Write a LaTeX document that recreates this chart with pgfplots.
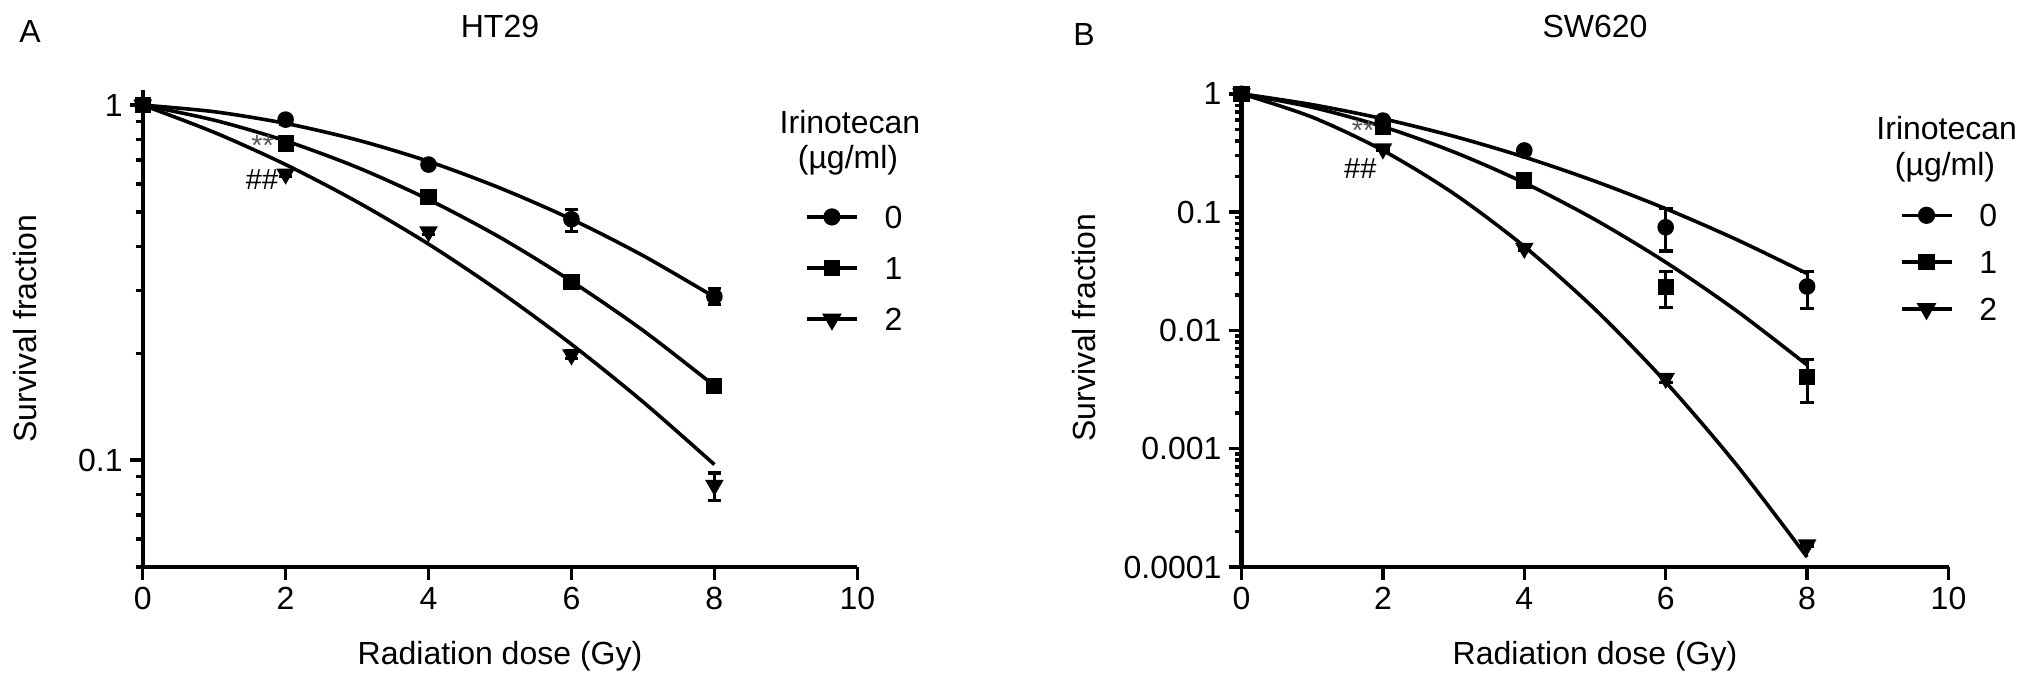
\documentclass[border=0pt]{standalone}
\usepackage{fontspec}
\setmainfont{Liberation Sans}
\usepackage{pgfplots}
\pgfplotsset{compat=1.18}
\newcommand\fs{\fontsize{16}{19.2}\selectfont}
\newcommand\fsa{\fontsize{14.5}{17}\selectfont}

\pgfplotsset{
  legend image code/.code={\draw[#1, mark repeat=2, mark phase=2] plot coordinates {(0pt,0pt) (12.5pt,0pt) (25pt,0pt)};},
  sfcurve/.style={black, line width=1.8pt, smooth, no markers, forget plot},
  sfpts/.style={black, only marks, line width=1.5pt, forget plot,
    error bars/y dir=both, error bars/y explicit,
    error bars/error bar style={line width=1.6pt, black},
    error bars/error mark options={rotate=90, mark size=3.4pt, line width=1.6pt, black}},
  sfmka/.style={mark=*, mark size=3.4pt},
  sfmkb/.style={mark=square*, mark size=3.3pt},
  sfmkc/.style={mark=triangle*, mark size=3.9pt, mark options={rotate=180}},
}

\begin{document}
\begin{tikzpicture}[x=1pt,y=1pt]
\useasboundingbox (0,0) rectangle (1015.5,342.5);

% ---------------- Panel A: HT29 ----------------
\begin{axis}[at={(71.35pt,59pt)}, anchor=south west,
  scale only axis, width=357.3pt, height=238.3pt,
  ymode=log, xmin=0, xmax=10, xtick={0,2,4,6,8,10},
  ymin=0.05, ymax=1.1, ytick={0.1,1}, yticklabels={0.1,1},
  minor ytick={0.05,0.06,0.07,0.08,0.09,0.2,0.3,0.4,0.5,0.6,0.7,0.8,0.9},
  axis lines=left, axis line style={-, line width=2.1pt},
  tick align=outside, major tick length=6.5pt, minor tick length=3.5pt,
  tick style={black, line width=1.7pt},
  tick label style={font=\fs},
  /pgf/number format/assume math mode=true,
  clip=false,
  xlabel={Radiation dose (Gy)}, ylabel={Survival fraction},
  xlabel style={font=\fs, at={(axis description cs:0.5,-0.187)}, anchor=center},
  ylabel style={font=\fs, at={(axis description cs:-0.165,0.5)}, anchor=center},
  legend style={draw=none, fill=none, inner sep=0pt, outer sep=0pt, font=\fs,
    anchor=north west, column sep=13pt, nodes={inner sep=0pt, text depth=0pt},
    at={(axis description cs:0.927,0.758)}, row sep=14.5pt},
  legend cell align=left]
% fitted curves
\addplot[sfcurve] coordinates {(0,1) (1,0.958) (2,0.888) (3,0.798) (4,0.694) (5,0.584) (6,0.477) (7,0.377) (8,0.288)};
\addplot[sfcurve] coordinates {(0,1) (1,0.907) (2,0.793) (3,0.668) (4,0.542) (5,0.424) (6,0.319) (7,0.232) (8,0.162)};
\addplot[sfcurve] coordinates {(0,1) (1,0.838) (2,0.680) (3,0.534) (4,0.406) (5,0.298) (6,0.212) (7,0.146) (8,0.0972)};
% data points
\addplot[sfpts, sfmka] coordinates {(0,1) (2,0.91) +- (0,0.025) (4,0.68) +- (0,0.012) (6,0.477) += (0,0.031) -= (0,0.037) (8,0.289) +- (0,0.015)};
\addplot[sfpts, sfmkb] coordinates {(0,1) (2,0.78) +- (0,0.01) (4,0.55) +- (0,0.01) (6,0.317) +- (0,0.008) (8,0.162) +- (0,0.004)};
\addplot[sfpts, sfmkc] coordinates {(0,1) (2,0.64) +- (0,0.01) (4,0.44) +- (0,0.008) (6,0.198) +- (0,0.005) (8,0.085) += (0,0.007) -= (0,0.008)};
\addlegendimage{black, line width=1.8pt, sfmka}\addlegendentry{0}
\addlegendimage{black, line width=1.8pt, sfmkb}\addlegendentry{1}
\addlegendimage{black, line width=1.8pt, sfmkc}\addlegendentry{2}
\node[font=\fsa, text=black!65] at (axis cs:1.68,0.77) {**};
\node[font=\fsa] at (axis cs:1.67,0.615) {\#\#};
\end{axis}

% ---------------- Panel B: SW620 ----------------
\begin{axis}[at={(620.75pt,59pt)}, anchor=south west,
  scale only axis, width=353.5pt, height=239.05pt,
  ymode=log, xmin=0, xmax=10, xtick={0,2,4,6,8,10},
  ymin=0.0001, ymax=1.1, ytick={0.0001,0.001,0.01,0.1,1}, yticklabels={0.0001,0.001,0.01,0.1,1},
  minor ytick={0.0002,0.0003,0.0004,0.0005,0.0006,0.0007,0.0008,0.0009,
    0.002,0.003,0.004,0.005,0.006,0.007,0.008,0.009,
    0.02,0.03,0.04,0.05,0.06,0.07,0.08,0.09,
    0.2,0.3,0.4,0.5,0.6,0.7,0.8,0.9},
  axis lines=left, axis line style={-, line width=2.1pt},
  tick align=outside, major tick length=6.5pt, minor tick length=3.5pt,
  tick style={black, line width=1.7pt},
  tick label style={font=\fs},
  /pgf/number format/assume math mode=true,
  clip=false,
  xlabel={Radiation dose (Gy)}, ylabel={Survival fraction},
  xlabel style={font=\fs, at={(axis description cs:0.5,-0.186)}, anchor=center},
  ylabel style={font=\fs, at={(axis description cs:-0.223,0.5)}, anchor=center},
  legend style={draw=none, fill=none, inner sep=0pt, outer sep=0pt, font=\fs,
    anchor=north west, column sep=13pt, nodes={inner sep=0pt, text depth=0pt},
    at={(axis description cs:0.931,0.759)}, row sep=12.3pt},
  legend cell align=left]
\addplot[sfcurve] coordinates {(0,1) (1,0.810) (2,0.615) (3,0.438) (4,0.292) (5,0.1824) (6,0.1069) (7,0.0587) (8,0.0302)};
\addplot[sfcurve] coordinates {(0,1) (1,0.769) (2,0.528) (3,0.323) (4,0.177) (5,0.0864) (6,0.0377) (7,0.01468) (8,0.0051)};
\addplot[sfcurve] coordinates {(0,1) (1,0.635) (2,0.332) (3,0.1437) (4,0.0512) (5,0.01508) (6,0.00366) (7,0.000733) (8,0.0001213)};
\addplot[sfpts, sfmka] coordinates {(0,1) (2,0.594) +- (0,0.02) (4,0.332) +- (0,0.01) (6,0.0745) += (0,0.0325) -= (0,0.0275) (8,0.0235) += (0,0.0082) -= (0,0.0083)};
\addplot[sfpts, sfmkb] coordinates {(0,1) (2,0.522) +- (0,0.015) (4,0.185) +- (0,0.006) (6,0.0232) += (0,0.0085) -= (0,0.0077) (8,0.00402) += (0,0.00162) -= (0,0.00155)};
\addplot[sfpts, sfmkc] coordinates {(0,1) (2,0.343) +- (0,0.01) (4,0.0495) +- (0,0.002) (6,0.00394) +- (0,0.0003) (8,0.000154) +- (0,0.000005)};
\addlegendimage{black, line width=1.8pt, sfmka}\addlegendentry{0}
\addlegendimage{black, line width=1.8pt, sfmkb}\addlegendentry{1}
\addlegendimage{black, line width=1.8pt, sfmkc}\addlegendentry{2}
\node[font=\fsa, text=black!65] at (axis cs:1.72,0.49) {**};
\node[font=\fsa] at (axis cs:1.68,0.234) {\#\#};
\end{axis}

% titles, panel letters, legend titles
\node[font=\fs] at (15,326.5) {A};
\node[font=\fs] at (542,325) {B};
\node[font=\fs] at (250,329.5) {HT29};
\node[font=\fs] at (797.5,329.5) {SW620};
\node[font=\fs] at (425,281.65) {Irinotecan};
\node[font=\fs] at (424,262.5) {(µg/ml)};
\node[font=\fs] at (973.35,278.35) {Irinotecan};
\node[font=\fs] at (972.5,258.85) {(µg/ml)};
\end{tikzpicture}
\end{document}
